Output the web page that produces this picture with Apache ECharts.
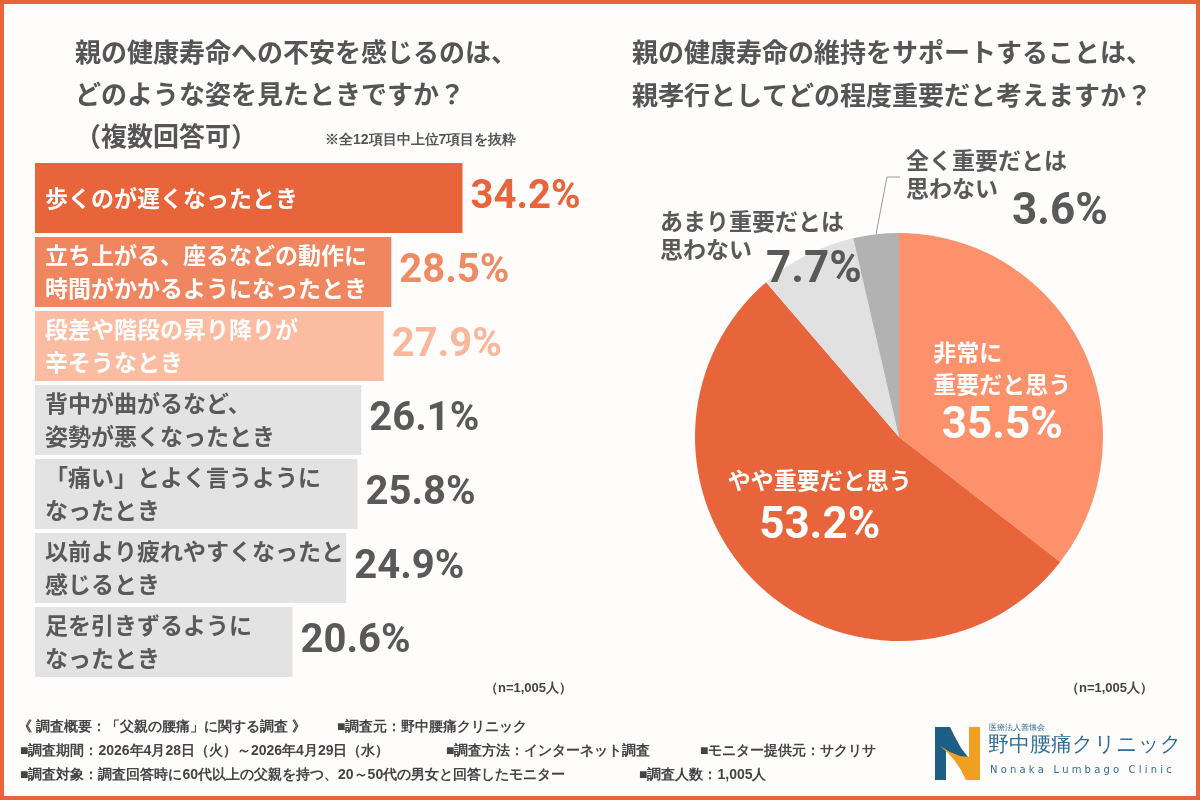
<!doctype html>
<html>
<head>
    <meta charset="utf-8">
    <title>親の健康寿命</title>
    <script src="https://cdn.jsdelivr.net/npm/echarts@6/dist/echarts.min.js"></script>
</head>
<style>
    html, body { margin: 0; padding: 0; }
    #main { width: 1200px; height: 800px; }
</style>
<body>
<div id="main"></div>
<script>
  // left: 不安を感じる姿 (top 7 of 12)
  var barCategories = [
    '歩くのが遅くなったとき',
    '立ち上がる、座るなどの動作に\n時間がかかるようになったとき',
    '段差や階段の昇り降りが\n辛そうなとき',
    '背中が曲がるなど、\n姿勢が悪くなったとき',
    '「痛い」とよく言うように\nなったとき',
    '以前より疲れやすくなったと\n感じるとき',
    '足を引きずるように\nなったとき'
  ];
  var barValues = [34.2, 28.5, 27.9, 26.1, 25.8, 24.9, 20.6];

  // right: 親孝行としての重要度
  var pieNames = ['非常に重要だと思う', 'やや重要だと思う', 'あまり重要だとは思わない', '全く重要だとは思わない'];
  var pieLabels = [['非常に', '重要だと思う'], ['やや重要だと思う'], ['あまり重要だとは', '思わない'], ['全く重要だとは', '思わない']];
  var pieValues = [35.5, 53.2, 7.7, 3.6];

  var footerRows = [
    [[18, '《 調査概要：「父親の腰痛」に関する調査 》'], [337, '■調査元：野中腰痛クリニック']],
    [[20, '■調査期間：2026年4月28日（火）～2026年4月29日（水）'], [446, '■調査方法：インターネット調査'], [700, '■モニター提供元：サクリサ']],
    [[20, '■調査対象：調査回答時に60代以上の父親を持つ、20～50代の男女と回答したモニター'], [639, '■調査人数：1,005人']]
  ];

  var ORANGE = '#E8643A';
  var GRAY_TEXT = '#595959';
  var barColors = [ORANGE, '#F0865F', '#FBBCA2', '#E3E3E3', '#E3E3E3', '#E3E3E3', '#E3E3E3'];
  var barTextColors = ['#fff', '#fff', '#fff', GRAY_TEXT, GRAY_TEXT, GRAY_TEXT, GRAY_TEXT];
  var valueColors = [ORANGE, '#F08A63', '#F9B79C', GRAY_TEXT, GRAY_TEXT, GRAY_TEXT, GRAY_TEXT];
  var pieColors = ['#FC916B', ORANGE, '#E1E1E1', '#B2B2B2'];

  var numFont = 'Roboto';

  var chart = echarts.init(document.getElementById('main'));

  var graphics = [
    {
      type: 'rect', z: 100,
      shape: { x: 2, y: 2, width: 1196, height: 796 },
      style: { fill: 'none', stroke: ORANGE, lineWidth: 4 }
    },
    {
      type: 'text', left: 325, top: 133,
      style: { text: '※全12項目中上位7項目を抜粋', fontSize: 14, fontWeight: 'bold', fill: '#555' }
    },
    {
      type: 'text', left: 485, top: 682,
      style: { text: '（n=1,005人）', fontSize: 13, fontWeight: 'bold', fill: '#444' }
    },
    {
      type: 'text', left: 1066, top: 682,
      style: { text: '（n=1,005人）', fontSize: 13, fontWeight: 'bold', fill: '#444' }
    },
    // logo mark
    {
      type: 'polygon',
      shape: { points: [[935, 727], [950, 727], [955, 737], [961, 748], [968, 757], [978, 764], [966, 762], [956, 757], [946, 750], [946, 780], [935, 780]] },
      style: { fill: '#1F5F86' }
    },
    {
      type: 'polygon',
      shape: { points: [[969, 727], [980, 727], [980, 780], [966, 780], [961, 770], [955, 761], [948, 753], [940, 746], [950, 752], [960, 756], [969, 757]] },
      style: { fill: '#F0A020' }
    },
    {
      type: 'text', left: 989, top: 724,
      style: { text: '医療法人善懐会', fontSize: 8, fill: '#2C6E97' }
    },
    {
      type: 'text', left: 988, top: 735,
      style: { text: '野中腰痛クリニック', fontSize: 21, fill: '#2C6E97' }
    },
    {
      type: 'text', left: 990, top: 765,
      style: { text: 'N o n a k a   L u m b a g o   C l i n i c', fontSize: 10, fill: '#2C6E97', fontFamily: 'DejaVu Sans' }
    }
  ];

  footerRows.forEach(function (row, i) {
    row.forEach(function (seg) {
      graphics.push({
        type: 'text', left: seg[0], top: 720 + i * 24,
        style: { text: seg[1], fontSize: 14, fontWeight: 'bold', fill: '#444' }
      });
    });
  });

  var option = {
    backgroundColor: '#FFFDFC',
    textStyle: { fontFamily: 'Noto Sans CJK JP' },
    title: [
      {
        text: '親の健康寿命への不安を感じるのは、\nどのような姿を見たときですか？\n（複数回答可）',
        left: 75, top: 31, padding: 0,
        textStyle: { fontSize: 26, fontWeight: 'bold', color: '#555', lineHeight: 42 }
      },
      {
        text: '親の健康寿命の維持をサポートすることは、\n親孝行としてどの程度重要だと考えますか？',
        left: 632, top: 31, padding: 0,
        textStyle: { fontSize: 26, fontWeight: 'bold', color: '#555', lineHeight: 43 }
      }
    ],
    grid: { left: 35, top: 161, width: 500, height: 518 },
    xAxis: { type: 'value', min: 0, max: 40, show: false },
    yAxis: { type: 'category', data: barCategories, inverse: true, show: false },
    series: [
      {
        type: 'bar',
        barWidth: 70,
        silent: true,
        data: barValues.map(function (v, i) {
          return {
            value: v,
            itemStyle: { color: barColors[i] },
            label: { color: barTextColors[i] }
          };
        }),
        label: {
          show: true,
          position: 'insideLeft',
          distance: 10,
          formatter: '{b}',
          fontSize: 23,
          fontWeight: 'bold',
          lineHeight: 33
        }
      },
      {
        type: 'bar',
        barWidth: 70,
        barGap: '-100%',
        silent: true,
        data: barValues.map(function (v, i) {
          return {
            value: v,
            itemStyle: { color: 'rgba(0,0,0,0)' },
            label: { color: valueColors[i] }
          };
        }),
        label: {
          show: true,
          position: 'right',
          distance: 8,
          formatter: '{c}%',
          fontFamily: numFont,
          fontSize: 40,
          fontWeight: 'bold'
        }
      },
      {
        type: 'pie',
        center: [899, 437],
        radius: 204,
        startAngle: 90,
        clockwise: true,
        silent: true,
        avoidLabelOverlap: false,
        data: pieValues.map(function (v, i) {
          var lines = pieLabels[i];
          var inside = i < 2;
          var text;
          if (inside) {
            text = lines.map(function (l) { return '{a|' + l + '}'; }).join('\n') + '\n{v|' + v + '%}';
          } else {
            text = '{a|' + lines[0] + '}\n{b|' + lines[1] + '}{v|' + v + '%}';
          }
          return {
            name: pieNames[i],
            value: v,
            itemStyle: { color: pieColors[i] },
            label: {
              position: inside ? 'inside' : 'outside',
              formatter: text,
              offset: i === 0 ? [9, 4] : (i === 1 ? [-7, -6] : [0, 0]),
              rich: inside ? {
                a: { fontSize: 23, fontWeight: 'bold', color: '#fff', lineHeight: i === 0 ? 32 : 40, align: i === 0 ? 'left' : 'center' },
                v: { fontFamily: numFont, fontSize: 44, fontWeight: 'bold', color: '#fff', lineHeight: 54, align: 'center' }
              } : {
                a: { fontSize: 23, fontWeight: 'bold', color: GRAY_TEXT, lineHeight: 34 },
                b: { fontSize: 23, fontWeight: 'bold', color: GRAY_TEXT, lineHeight: 28, verticalAlign: 'top' },
                v: { fontFamily: numFont, fontSize: 44, fontWeight: 'bold', color: GRAY_TEXT, lineHeight: i === 3 ? 72 : 66, padding: [0, 0, 0, 14] }
              }
            },
            labelLine: { show: i === 3, lineStyle: { color: '#999', width: 1 } }
          };
        }),
        label: { show: true },
        labelLayout: function (params) {
          if (params.dataIndex === 2) {
            return { x: 660, y: 204, align: 'left', verticalAlign: 'top' };
          }
          if (params.dataIndex === 3) {
            var start = params.labelLinePoints ? params.labelLinePoints[0] : [877, 234];
            return {
              x: 906, y: 143, align: 'left', verticalAlign: 'top',
              labelLinePoints: [start, [887, 177], [900, 177]]
            };
          }
          return {};
        }
      }
    ],
    graphic: graphics
  };

  chart.setOption(option);
</script>
</body>
</html>
